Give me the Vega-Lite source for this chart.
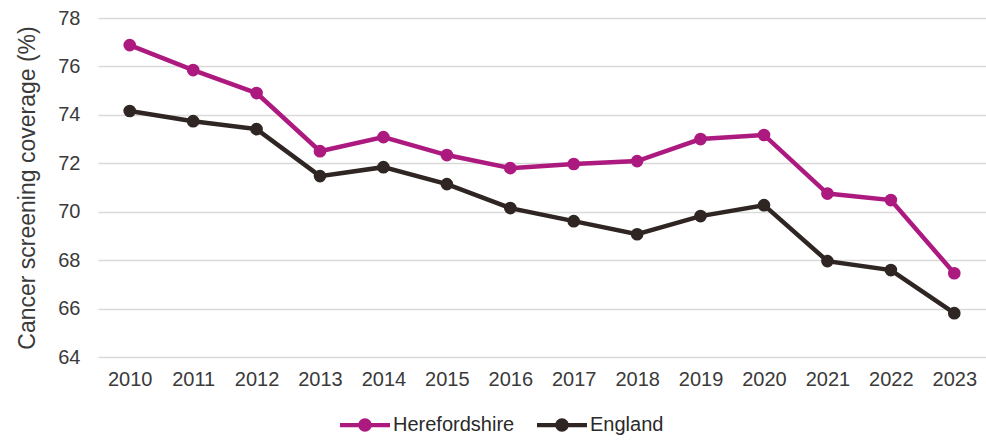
{
  "$schema": "https://vega.github.io/schema/vega-lite/v6.json",
  "autosize": {"type": "none"},
  "width": 888,
  "height": 339,
  "padding": {"left": 98, "top": 18, "right": 0, "bottom": 83},
  "background": "white",
  "config": {
    "view": {"stroke": null},
    "font": "Liberation Sans",
    "axis": {"labelFont": "Liberation Sans", "titleFont": "Liberation Sans", "labelColor": "#3a3a3a", "titleColor": "#3a3a3a"}
  },
  "data": {"values": [
    {"year": "2010", "area": "Herefordshire", "value": 76.88},
    {"year": "2011", "area": "Herefordshire", "value": 75.85},
    {"year": "2012", "area": "Herefordshire", "value": 74.9},
    {"year": "2013", "area": "Herefordshire", "value": 72.5},
    {"year": "2014", "area": "Herefordshire", "value": 73.08},
    {"year": "2015", "area": "Herefordshire", "value": 72.34},
    {"year": "2016", "area": "Herefordshire", "value": 71.8},
    {"year": "2017", "area": "Herefordshire", "value": 71.97},
    {"year": "2018", "area": "Herefordshire", "value": 72.09},
    {"year": "2019", "area": "Herefordshire", "value": 73.0},
    {"year": "2020", "area": "Herefordshire", "value": 73.17},
    {"year": "2021", "area": "Herefordshire", "value": 70.75},
    {"year": "2022", "area": "Herefordshire", "value": 70.48},
    {"year": "2023", "area": "Herefordshire", "value": 67.46},
    {"year": "2010", "area": "England", "value": 74.16},
    {"year": "2011", "area": "England", "value": 73.74},
    {"year": "2012", "area": "England", "value": 73.41},
    {"year": "2013", "area": "England", "value": 71.47},
    {"year": "2014", "area": "England", "value": 71.84},
    {"year": "2015", "area": "England", "value": 71.14},
    {"year": "2016", "area": "England", "value": 70.15},
    {"year": "2017", "area": "England", "value": 69.61},
    {"year": "2018", "area": "England", "value": 69.07},
    {"year": "2019", "area": "England", "value": 69.82},
    {"year": "2020", "area": "England", "value": 70.27},
    {"year": "2021", "area": "England", "value": 67.96},
    {"year": "2022", "area": "England", "value": 67.59},
    {"year": "2023", "area": "England", "value": 65.81}
  ]},
  "encoding": {
    "x": {
      "field": "year", "type": "ordinal",
      "scale": {"type": "point", "padding": 0.5},
      "axis": {"title": null, "labelAngle": 0, "labelFontSize": 20, "ticks": false, "tickSize": 0, "domain": false, "labelPadding": 12, "grid": false}
    },
    "y": {
      "field": "value", "type": "quantitative",
      "scale": {"domain": [64, 78], "nice": false, "zero": false},
      "axis": {"title": "Cancer screening coverage (%)", "titleFontSize": 23, "titleFontWeight": "normal", "titlePadding": 18, "values": [64, 66, 68, 70, 72, 74, 76, 78], "labelFontSize": 20, "ticks": false, "tickSize": 0, "domain": false, "labelPadding": 18, "gridColor": "#d9d9d9", "gridWidth": 1.5}
    },
    "color": {
      "field": "area", "type": "nominal",
      "scale": {"domain": ["Herefordshire", "England"], "range": ["#ad1a7f", "#2f2624"]},
      "legend": {
        "title": null, "orient": "none", "direction": "horizontal",
        "legendX": 242, "legendY": 382,
        "labelFontSize": 20, "labelColor": "#2a2a2a", "labelOffset": 3, "columnPadding": 22,
        "symbolType": "M-1,-0.085H1V0.085H-1Z M-0.27,0A0.27,0.27 0 1,1 0.27,0A0.27,0.27 0 1,1 -0.27,0Z",
        "symbolSize": 2500, "symbolStrokeWidth": 0,
        "encode": {"symbols": {"update": {"fill": {"scale": "color", "field": "value"}, "strokeWidth": {"value": 0}}}}
      }
    }
  },
  "layer": [
    {"mark": {"type": "line", "strokeWidth": 4.5}},
    {"mark": {"type": "point", "filled": true, "size": 160, "opacity": 1}}
  ]
}
